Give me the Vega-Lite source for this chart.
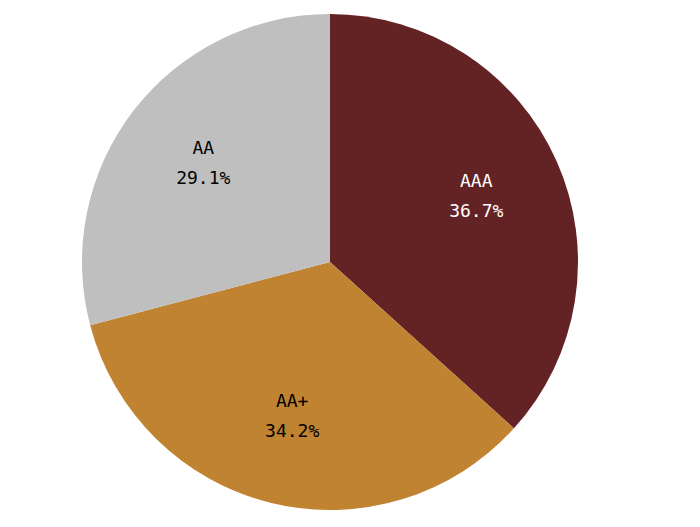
{
  "$schema": "https://vega.github.io/schema/vega-lite/v6.json",
  "width": 660,
  "height": 524,
  "padding": 0,
  "background": "white",
  "data": {
    "values": [
      {"category": "AAA", "share": 0.367, "rank": 1},
      {"category": "AA+", "share": 0.342, "rank": 2},
      {"category": "AA", "share": 0.291, "rank": 3}
    ]
  },
  "encoding": {
    "theta": {"field": "share", "type": "quantitative", "stack": true},
    "order": {"field": "rank", "type": "quantitative"}
  },
  "layer": [
    {
      "mark": {"type": "arc", "outerRadius": 248},
      "encoding": {
        "color": {
          "field": "category",
          "type": "nominal",
          "scale": {"domain": ["AAA", "AA+", "AA"], "range": ["#632325", "#C08331", "#BFBFBF"]},
          "legend": null
        }
      }
    },
    {
      "mark": {"type": "text", "radius": 160, "dy": -15, "font": "DejaVu Sans Mono", "fontSize": 18},
      "encoding": {
        "text": {"field": "category", "type": "nominal"},
        "color": {"condition": {"test": "datum.category === 'AAA'", "value": "white"}, "value": "black"}
      }
    },
    {
      "mark": {"type": "text", "radius": 160, "dy": 15, "font": "DejaVu Sans Mono", "fontSize": 18},
      "encoding": {
        "text": {"field": "share", "type": "quantitative", "format": ".1%"},
        "color": {"condition": {"test": "datum.category === 'AAA'", "value": "white"}, "value": "black"}
      }
    }
  ],
  "config": {"view": {"stroke": null}}
}
